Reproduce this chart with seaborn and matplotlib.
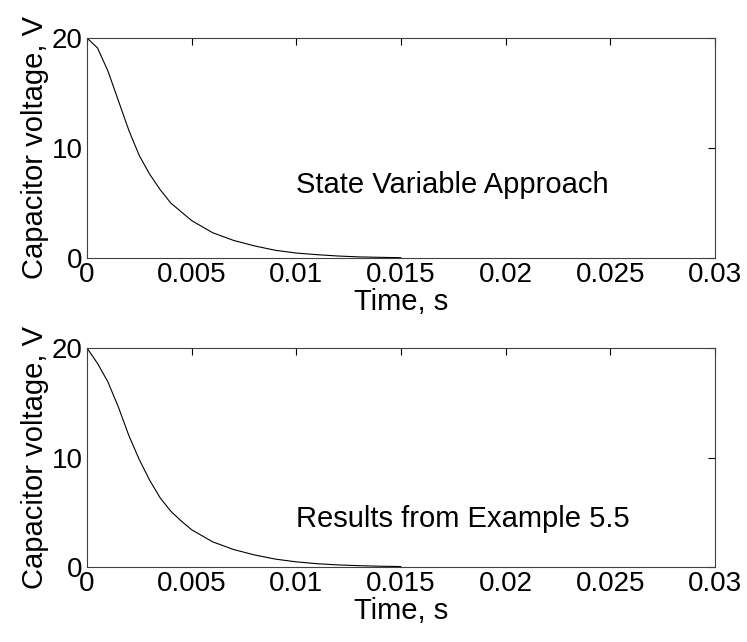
import numpy as np
import pandas as pd
import matplotlib
matplotlib.use("Agg")
import matplotlib.pyplot as plt
import seaborn as sns

# ==========================================
# DATA
# ==========================================

time_s = [0, 0.0005, 0.001, 0.0015, 0.002, 0.0025, 0.003, 0.0035, 0.004,
          0.0045, 0.005, 0.006, 0.007, 0.008, 0.009, 0.010, 0.011, 0.012,
          0.013, 0.014, 0.015]

v_state = [20, 19.1, 17.0, 14.3, 11.6, 9.3, 7.6, 6.2, 5.0, 4.2, 3.4,
           2.3, 1.6, 1.1, 0.7, 0.45, 0.3, 0.18, 0.1, 0.06, 0.03]

v_example = [20, 18.6, 16.9, 14.6, 12.0, 9.8, 7.9, 6.3, 5.1, 4.2, 3.4,
             2.3, 1.6, 1.1, 0.72, 0.47, 0.3, 0.19, 0.12, 0.07, 0.04]

titles = ["State Variable Approach", "Results from Example 5.5"]
text_y = [6.6, 4.4]

x_ticks = [0, 0.005, 0.01, 0.015, 0.02, 0.025, 0.03]
x_labels = ["0", "0.005", "0.01", "0.015", "0.02", "0.025", "0.03"]
y_ticks = [0, 10, 20]

# ==========================================
# STYLE
# ==========================================

sns.set_style("white")
plt.rcParams["font.family"] = ["Liberation Sans", "DejaVu Sans"]
plt.rcParams["text.color"] = "black"
plt.rcParams["axes.labelcolor"] = "black"
plt.rcParams["xtick.direction"] = "in"
plt.rcParams["ytick.direction"] = "in"

fig = plt.figure(figsize=(7.47, 6.42), dpi=100)
ax1 = fig.add_axes([87 / 747, 1 - 258 / 642, 628 / 747, 220 / 642])
ax2 = fig.add_axes([87 / 747, 1 - 567 / 642, 628 / 747, 219 / 642])

for ax, vals, label, ty in zip([ax1, ax2], [v_state, v_example], titles, text_y):
    df = pd.DataFrame({"t": time_s, "v": vals})
    sns.lineplot(data=df, x="t", y="v", ax=ax, color="black", linewidth=0.8)
    ax.set_xlim(0, 0.03)
    ax.set_ylim(0, 20)
    ax.set_xticks(x_ticks)
    ax.set_xticklabels(x_labels)
    ax.set_yticks(y_ticks)
    ax.tick_params(axis="both", labelsize=20, length=5, width=0.8,
                   top=True, right=True, colors="black", pad=3)
    for s in ax.spines.values():
        s.set_color("#404040")
        s.set_linewidth(0.8)
    ax.set_xlabel("Time, s", fontsize=21, labelpad=0)
    ax.set_ylabel("Capacitor voltage, V", fontsize=21, labelpad=2)
    ax.text(0.01, ty, label, fontsize=21, va="center", ha="left")

plt.savefig("out.png", dpi=100)
